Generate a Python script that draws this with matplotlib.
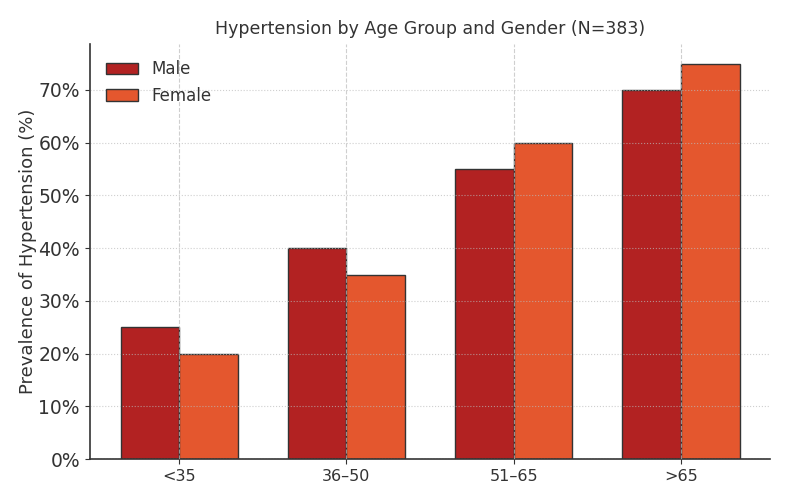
import matplotlib
matplotlib.use("Agg")
import matplotlib.pyplot as plt
import numpy as np
from matplotlib.ticker import FuncFormatter

categories = ["<35", "36–50", "51–65", ">65"]
male = [25, 40, 55, 70]
female = [20, 35, 60, 75]

plt.rcParams["text.color"] = "#333333"
plt.rcParams["axes.labelcolor"] = "#333333"
plt.rcParams["xtick.color"] = "#333333"
plt.rcParams["ytick.color"] = "#333333"

fig, ax = plt.subplots(figsize=(7.87, 4.98), dpi=100)
x = np.arange(len(categories))
w = 0.35
ax.bar(x - w/2, male, w, label="Male", color="#b22222", edgecolor="#333333", linewidth=1)
ax.bar(x + w/2, female, w, label="Female", color="#e4572e", edgecolor="#333333", linewidth=1)

ax.set_xticks(x)
ax.set_xticklabels(categories, fontsize=11.5)
ax.yaxis.set_major_formatter(FuncFormatter(lambda v, p: f"{int(v)}%"))
ax.tick_params(axis="y", labelsize=13.5)
ax.set_ylabel("Prevalence of Hypertension (%)", fontsize=13, labelpad=1)
ax.set_title("Hypertension by Age Group and Gender (N=383)", fontsize=12.5, color="#333333", pad=7)
ax.grid(axis="x", linestyle="--", color="#bbbbbb", linewidth=0.8, alpha=0.7)
ax.grid(axis="y", linestyle=":", color="#bbbbbb", linewidth=0.8, alpha=0.7)
ax.set_axisbelow(False)
for s in ["top", "right"]:
    ax.spines[s].set_visible(False)
ax.spines["left"].set_linewidth(1.2)
ax.spines["bottom"].set_linewidth(1.2)
ax.spines["left"].set_color("#333333")
ax.spines["bottom"].set_color("#333333")
ax.legend(frameon=False, loc="upper left", fontsize=12, borderaxespad=0.6, handlelength=1.9)
fig.subplots_adjust(left=0.114, right=0.979, bottom=0.078, top=0.912)
fig.savefig("out.png", dpi=100)
